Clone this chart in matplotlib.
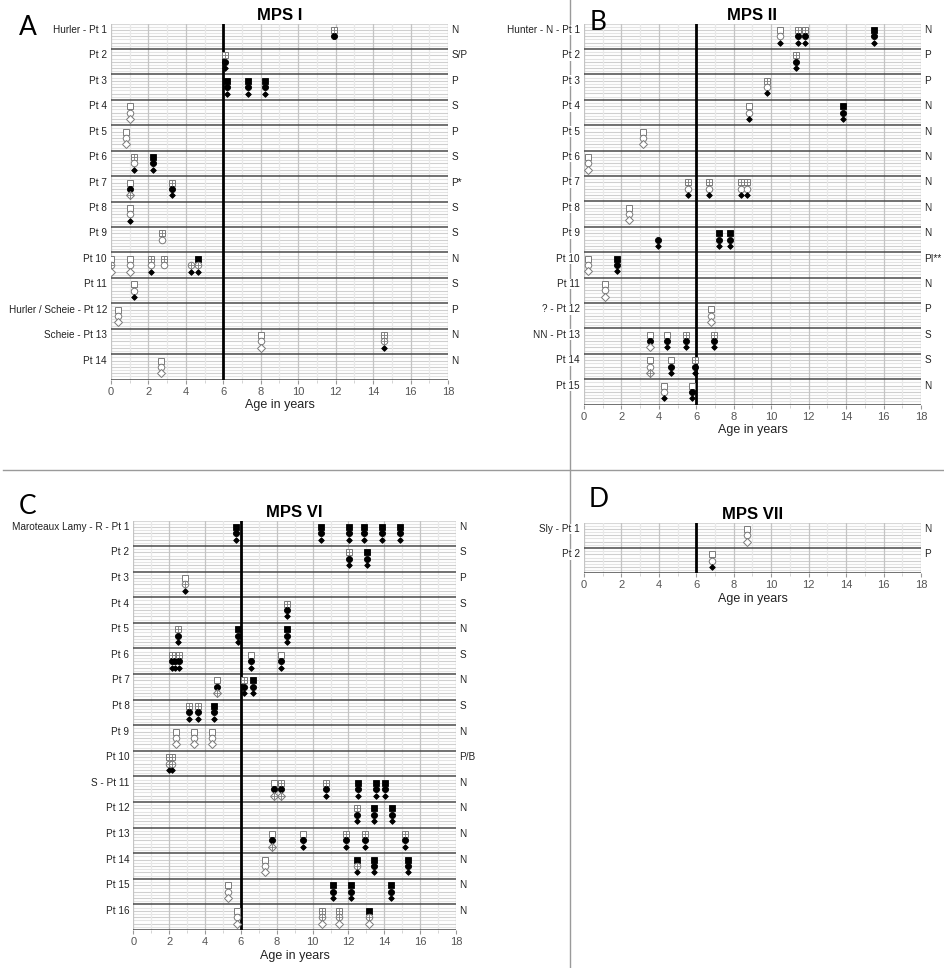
import matplotlib.pyplot as plt
import numpy as np

plt.rcParams['font.family'] = ['Liberation Sans', 'DejaVu Sans']

# ---- data: (patient number, age in years, square/circle/diamond state) ----
# state codes: o = open, x = crossed, f = filled, - = not shown
mps1_names = ["Hurler - Pt 1", "Pt 2", "Pt 3", "Pt 4", "Pt 5", "Pt 6", "Pt 7",
              "Pt 8", "Pt 9", "Pt 10", "Pt 11", "Hurler / Scheie - Pt 12",
              "Scheie - Pt 13", "Pt 14"]
mps1_sev = ["N", "S/P", "P", "S", "P", "S", "P*", "S", "S", "N", "S", "P", "N", "N"]
mps1_visits = [
    (1, 11.9, "xf-"),
    (2, 6.1, "xff"),
    (3, 6.2, "fff"), (3, 7.3, "fff"), (3, 8.2, "fff"),
    (4, 1.0, "ooo"),
    (5, 0.8, "ooo"),
    (6, 1.25, "xof"), (6, 2.25, "fff"),
    (7, 1.0, "ofx"), (7, 3.25, "xff"),
    (8, 1.0, "oof"),
    (9, 2.75, "xo-"),
    (10, 0.0, "oxo"), (10, 1.0, "ooo"), (10, 2.15, "xof"), (10, 2.85, "xo-"),
    (10, 4.25, "-xf"), (10, 4.65, "fxf"),
    (11, 1.25, "oof"),
    (12, 0.4, "ooo"),
    (13, 8.0, "ooo"), (13, 14.6, "xxf"),
    (14, 2.65, "ooo"),
]

mps2_names = ["Hunter - N - Pt 1", "Pt 2", "Pt 3", "Pt 4", "Pt 5", "Pt 6", "Pt 7",
              "Pt 8", "Pt 9", "Pt 10", "Pt 11", "? - Pt 12", "NN - Pt 13",
              "Pt 14", "Pt 15"]
mps2_sev = ["N", "P", "P", "N", "N", "N", "N", "N", "N", "PI**", "N", "P", "S", "S", "N"]
mps2_visits = [
    (1, 10.45, "oof"), (1, 11.45, "xff"), (1, 11.8, "xff"), (1, 15.5, "fff"),
    (2, 11.35, "xff"),
    (3, 9.8, "xof"),
    (4, 8.8, "oof"), (4, 13.85, "fff"),
    (5, 3.15, "ooo"),
    (6, 0.2, "ooo"),
    (7, 5.55, "xof"), (7, 6.7, "xof"), (7, 8.4, "xof"), (7, 8.7, "xof"),
    (8, 2.4, "ooo"),
    (9, 3.95, "-ff"), (9, 7.2, "fff"), (9, 7.8, "fff"),
    (10, 0.2, "ooo"), (10, 1.75, "fff"),
    (11, 1.1, "ooo"),
    (12, 6.8, "ooo"),
    (13, 3.55, "ofo"), (13, 4.45, "off"), (13, 5.45, "xff"), (13, 6.95, "xff"),
    (14, 3.55, "oox"), (14, 4.65, "off"), (14, 5.95, "xff"),
    (15, 4.25, "oof"), (15, 5.75, "off"),
]

mps6_names = ["Maroteaux Lamy - R - Pt 1", "Pt 2", "Pt 3", "Pt 4", "Pt 5", "Pt 6",
              "Pt 7", "Pt 8", "Pt 9", "Pt 10", "S - Pt 11", "Pt 12", "Pt 13",
              "Pt 14", "Pt 15", "Pt 16"]
mps6_sev = ["N", "S", "P", "S", "N", "S", "N", "S", "N", "P/B", "N", "N", "N", "N", "N", "N"]
mps6_visits = [
    (1, 5.75, "fff"), (1, 10.45, "fff"), (1, 12.05, "fff"), (1, 12.85, "fff"),
    (1, 13.85, "fff"), (1, 14.85, "fff"),
    (2, 12.05, "xff"), (2, 13.05, "fff"),
    (3, 2.9, "oxf"),
    (4, 8.6, "xff"),
    (5, 2.5, "xff"), (5, 5.85, "fff"), (5, 8.6, "fff"),
    (6, 2.15, "xff"), (6, 2.35, "xff"), (6, 2.55, "xff"), (6, 6.55, "off"),
    (6, 8.25, "off"),
    (7, 4.65, "ofx"), (7, 6.15, "xff"), (7, 6.65, "fff"),
    (8, 3.1, "xff"), (8, 3.6, "xff"), (8, 4.5, "fff"),
    (9, 2.4, "ooo"), (9, 3.4, "ooo"), (9, 4.4, "ooo"),
    (10, 2.0, "xxf"), (10, 2.15, "xxf"),
    (11, 7.85, "ofx"), (11, 8.25, "xfx"), (11, 10.75, "xff"), (11, 12.55, "fff"),
    (11, 13.55, "fff"), (11, 14.05, "fff"),
    (12, 12.45, "xff"), (12, 13.45, "fff"), (12, 14.45, "fff"),
    (13, 7.75, "ofx"), (13, 9.45, "off"), (13, 11.85, "xff"), (13, 12.95, "xff"),
    (13, 15.15, "xff"),
    (14, 7.35, "ooo"), (14, 12.45, "fxf"), (14, 13.45, "fff"), (14, 15.35, "fff"),
    (15, 5.3, "ooo"), (15, 11.15, "fff"), (15, 12.15, "fff"), (15, 14.35, "fff"),
    (16, 5.8, "ooo"), (16, 10.55, "xxo"), (16, 11.45, "xxo"), (16, 13.15, "fxo"),
]

mps7_names = ["Sly - Pt 1", "Pt 2"]
mps7_sev = ["N", "P"]
mps7_visits = [
    (1, 8.7, "ooo"),
    (2, 6.85, "oof"),
]

W, H = 945, 968
fig = plt.figure(figsize=(W / 100, H / 100), dpi=100)


def box(l, t, r, b):
    return [l / W, 1 - b / H, (r - l) / W, (b - t) / H]


GRAY = "#7a7a7a"
shapes = {0: "s", 1: "o", 2: "D"}
sizes = {0: 4.6, 1: 4.7, 2: 3.9}


def draw_marker(ax, x, y, k, state):
    m = shapes[k]
    if state == "-":
        return
    if state == "f":
        ms = 2.9 if k == 2 else sizes[k] - 0.3
        ax.plot(x, y, m, ms=ms, mfc="black", mec="black", mew=0.6, zorder=5)
    else:
        ax.plot(x, y, m, ms=sizes[k], mfc="white", mec=GRAY, mew=0.7, zorder=5)
        if state == "x":
            cs = sizes[k] * (1.3 if k == 2 else 0.95)
            ax.plot(x, y, "+", ms=cs, mec=GRAY, mew=0.6, zorder=6)


def panel(rect, title, names, sev, visits):
    ax = fig.add_axes(rect)
    n = len(names)
    ax.set_xlim(0, 18)
    ax.set_ylim(n * 4, 0)
    for y in np.arange(0.5, n * 4, 0.5):
        if y % 4 == 0:
            continue
        c = "#cfcfcf" if y % 1 == 0 else "#e4e4e4"
        ax.axhline(y, color=c, lw=0.8, zorder=1)
    ax.axhline(0, color="#d8d8d8", lw=0.8, zorder=1)
    for x in range(0, 19):
        c = "#c4c4c4" if x % 2 == 0 else "#e8e8e8"
        ax.axvline(x, color=c, lw=0.9, zorder=1.5)
    for i in range(1, n + 1):
        ax.axhline(i * 4, color="#4a4a4a", lw=1.1, zorder=2)
    ax.axvline(6, color="black", lw=2.0, zorder=3)

    for pt, age, st in visits:
        base = (pt - 1) * 4
        for k in range(3):
            draw_marker(ax, age, base + 1 + k, k, st[k])

    for i, (nm, sv) in enumerate(zip(names, sev)):
        ax.text(-0.012, i * 4 + 1, nm, transform=ax.get_yaxis_transform(),
                ha="right", va="center", fontsize=7.2, color="#222222", zorder=10,
                bbox=dict(facecolor="white", edgecolor="none", pad=0.3))
        ax.text(1.01, i * 4 + 1, sv, transform=ax.get_yaxis_transform(),
                ha="left", va="center", fontsize=7.2, color="#222222")

    for s in ax.spines.values():
        s.set_visible(False)
    ax.set_yticks([])
    ax.set_xticks(range(0, 19, 2))
    ax.set_xticks(range(1, 19, 2), minor=True)
    ax.tick_params(axis="x", which="major", length=3, color="#999999",
                   labelsize=8, labelcolor="#555555", pad=2)
    ax.tick_params(axis="x", which="minor", length=2, color="#cccccc")
    ax.set_xlabel("Age in years", fontsize=9, color="#222222", labelpad=2)
    ax.set_title(title, fontsize=12, fontweight="bold", pad=2.5)
    return ax


# separators between panels (drawn first so labels sit on top)
fig.add_artist(plt.Line2D([3 / W, 1], [1 - 470 / H, 1 - 470 / H], color="#9a9a9a",
                          lw=1, zorder=0))
fig.add_artist(plt.Line2D([570 / W, 570 / W], [0, 1], color="#9a9a9a", lw=1, zorder=0))

panel(box(111, 23.6, 448, 379.6), "MPS I", mps1_names, mps1_sev, mps1_visits)
panel(box(584, 23.6, 921, 404.6), "MPS II", mps2_names, mps2_sev, mps2_visits)
panel(box(133.3, 520.5, 456, 930), "MPS VI", mps6_names, mps6_sev, mps6_visits)
panel(box(584, 522.6, 921, 573.4), "MPS VII", mps7_names, mps7_sev, mps7_visits)

# panel letters
for letter, lx, ly in [("A", 19, 35), ("B", 590, 30), ("C", 19, 514), ("D", 589, 507)]:
    fig.text(lx / W, 1 - ly / H, letter, fontsize=19, family="Lato",
             ha="left", va="baseline")

fig.savefig("out.png", dpi=100)
